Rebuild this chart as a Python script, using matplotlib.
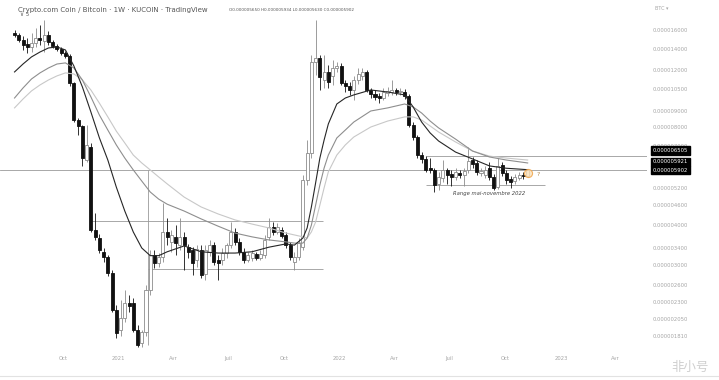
import numpy as np
import pandas as pd
import matplotlib
matplotlib.use("Agg")
import matplotlib.pyplot as plt
import matplotlib.dates as mdates
from matplotlib.lines import Line2D
from matplotlib.ticker import FixedLocator, NullLocator

plt.rcParams['font.family'] = ['DejaVu Sans', 'Noto Sans CJK SC']

# weekly CRO/BTC candles, prices in units of 1e-6 BTC
start_week = "2020-07-13"
opens = [15.66, 15.44, 14.90, 14.48, 14.18, 14.59, 15.11, 14.80, 15.44, 14.69,
         14.28, 13.98, 13.58, 13.30, 10.98, 8.43, 8.08, 6.34, 6.96, 3.85,
         3.64, 3.29, 3.18, 2.84, 2.18, 1.89, 2.06, 2.29, 2.29, 1.89,
         1.72, 1.86, 2.51, 3.23, 3.04, 3.18, 3.80, 3.54, 3.67, 3.46,
         3.67, 3.41, 3.34, 3.11, 3.34, 2.82, 3.29, 3.46, 3.11, 3.11,
         3.27, 3.46, 3.80, 3.54, 3.29, 3.11, 3.16, 3.25, 3.16, 3.23,
         3.67, 3.93, 3.80, 3.85, 3.72, 3.46, 3.07, 3.18, 3.41, 5.50,
         6.66, 12.75, 13.11, 11.21, 11.87, 11.54, 12.21, 12.38, 10.98, 10.74,
         10.44, 11.21, 11.54, 11.87, 10.44, 10.15, 10.00, 9.86, 10.22, 10.29,
         10.44, 10.29, 10.29, 10.00, 8.14, 7.47, 6.57, 6.39, 6.00, 5.91,
         5.35, 5.58, 5.91, 5.74, 5.62, 5.79, 5.70, 5.91, 6.34, 6.21,
         5.79, 5.70, 6.00, 5.62, 5.24, 6.12, 5.79, 5.54, 5.46, 5.58,
         5.70, 5.650]
highs = [16.00, 15.66, 15.33, 15.11, 15.66, 16.23, 16.58, 17.18, 15.89, 14.90,
         14.48, 14.18, 13.78, 13.49, 11.06, 8.55, 8.14, 8.14, 7.16, 4.35,
         3.75, 3.39, 3.23, 2.90, 2.26, 2.34, 2.51, 2.43, 2.37, 1.96,
         1.89, 2.61, 3.34, 3.34, 3.27, 4.67, 4.20, 3.85, 3.99, 4.20,
         3.80, 3.49, 3.41, 3.46, 3.46, 3.46, 3.59, 3.54, 3.23, 3.39,
         3.51, 4.08, 3.91, 3.64, 3.39, 3.29, 3.34, 3.29, 3.34, 3.72,
         4.20, 4.08, 4.05, 3.93, 3.80, 3.54, 3.29, 3.64, 5.70, 7.31,
         13.39, 17.18, 13.39, 13.39, 12.47, 12.93, 12.75, 12.66, 11.21, 11.05,
         11.54, 12.21, 12.21, 12.04, 10.59, 10.44, 10.22, 10.59, 10.67, 11.21,
         10.59, 10.59, 10.52, 10.15, 8.31, 7.58, 6.71, 6.52, 6.43, 6.00,
         5.83, 6.34, 6.00, 5.91, 6.00, 5.91, 6.00, 6.96, 6.48, 6.34,
         6.00, 6.08, 6.25, 5.74, 6.43, 6.25, 5.91, 5.66, 5.74, 5.83,
         5.83, 5.934]
lows = [15.22, 14.69, 13.88, 13.58, 13.68, 14.18, 14.38, 13.68, 14.38, 14.08,
        13.78, 13.39, 13.11, 10.74, 8.31, 7.58, 6.08, 6.25, 3.80, 3.59,
        3.27, 3.07, 2.78, 2.15, 1.79, 1.81, 2.00, 2.15, 1.86, 1.67,
        1.68, 1.81, 2.43, 2.94, 2.96, 3.07, 3.46, 3.29, 3.23, 3.34,
        2.90, 3.16, 2.80, 2.96, 2.74, 2.70, 3.21, 3.00, 2.70, 3.00,
        3.16, 3.39, 3.46, 3.23, 3.04, 3.07, 3.09, 3.11, 3.11, 3.16,
        3.59, 3.72, 3.75, 3.64, 3.39, 3.11, 2.90, 3.11, 3.34, 5.31,
        6.43, 11.62, 10.44, 10.59, 10.59, 10.82, 11.87, 10.82, 10.29, 10.08,
        9.72, 10.90, 11.21, 10.29, 9.86, 9.72, 9.51, 9.72, 10.00, 10.08,
        10.08, 10.08, 9.79, 8.03, 7.31, 6.43, 6.21, 5.83, 5.79, 5.05,
        5.12, 5.43, 5.35, 5.27, 5.50, 5.58, 5.27, 5.79, 6.00, 5.70,
        5.66, 5.58, 5.50, 5.12, 5.16, 5.66, 5.35, 5.20, 5.35, 5.50,
        5.54, 5.630]
closes = [15.44, 14.90, 14.38, 14.18, 14.59, 15.11, 14.90, 15.44, 14.69, 14.28,
          13.98, 13.58, 13.30, 10.98, 8.43, 8.08, 6.43, 7.06, 3.85, 3.67,
          3.34, 3.18, 2.84, 2.18, 1.85, 2.06, 2.29, 2.24, 1.89, 1.70,
          1.86, 2.51, 3.23, 3.04, 3.18, 3.80, 3.67, 3.72, 3.51, 3.67,
          3.46, 3.29, 3.04, 3.36, 2.80, 3.34, 3.46, 3.07, 3.04, 3.27,
          3.46, 3.80, 3.54, 3.29, 3.11, 3.23, 3.27, 3.16, 3.25, 3.59,
          3.93, 3.80, 3.93, 3.69, 3.46, 3.18, 3.18, 3.51, 5.50, 6.66,
          12.75, 13.11, 11.46, 11.87, 11.05, 12.21, 12.38, 10.98, 10.74, 10.44,
          11.21, 11.70, 11.87, 10.44, 10.15, 9.93, 9.86, 10.29, 10.37, 10.44,
          10.29, 10.37, 10.00, 8.14, 7.47, 6.57, 6.39, 5.91, 5.91, 5.31,
          5.62, 5.91, 5.70, 5.62, 5.83, 5.70, 5.87, 6.30, 6.16, 5.83,
          5.87, 5.91, 5.62, 5.20, 6.08, 5.79, 5.50, 5.43, 5.62, 5.70,
          5.66, 5.902]

# moving averages (week index -> value)
ma_weeks = [0, 2, 4, 6, 8, 10, 12, 14, 16, 18, 20, 22, 24, 26, 28, 30, 32, 34, 36,
            40, 44, 48, 52, 56, 60, 64, 66, 68, 69, 70, 71, 72, 73, 74, 76, 78, 80,
            84, 88, 92, 94, 96, 98, 100, 104, 108, 112, 116, 121]
ma_fast = [11.87, 12.56, 13.21, 13.68, 14.08, 14.18, 13.88, 12.38, 10.67, 8.93,
           7.43, 6.34, 5.23, 4.41, 3.80, 3.39, 3.21, 3.21, 3.30, 3.44, 3.30, 3.27,
           3.27, 3.30, 3.41, 3.49, 3.46, 3.64, 3.91, 4.54, 5.39, 6.43, 7.31, 8.20,
           9.45, 9.86, 10.08, 10.44, 10.29, 10.08, 9.25, 8.31, 7.69, 7.26, 6.71,
           6.39, 6.08, 5.98, 5.92]
ma_mid = [9.86, 10.59, 11.29, 11.79, 12.21, 12.56, 12.66, 12.21, 11.21, 9.94,
          8.74, 7.85, 7.06, 6.43, 5.91, 5.46, 5.05, 4.80, 4.63, 4.41, 4.17, 3.96,
          3.77, 3.67, 3.59, 3.54, 3.51, 3.51, 3.64, 3.99, 4.60, 5.31, 5.99, 6.57,
          7.42, 7.85, 8.31, 8.99, 9.19, 9.45, 9.25, 8.86, 8.37, 7.97, 7.36, 6.76,
          6.48, 6.34, 6.21]
ma_slow = [9.19, 9.79, 10.37, 10.82, 11.21, 11.54, 11.79, 11.70, 11.21, 10.44,
           9.51, 8.62, 7.79, 7.16, 6.57, 6.21, 5.91, 5.62, 5.35, 4.87, 4.54, 4.32,
           4.14, 4.02, 3.91, 3.77, 3.72, 3.67, 3.64, 3.80, 4.08, 4.60, 5.20, 5.83,
           6.57, 7.06, 7.47, 8.02, 8.37, 8.62, 8.62, 8.43, 8.08, 7.74, 7.21, 6.76,
           6.52, 6.43, 6.34]

# drawn levels: (price, from, to)
levels = [(4.11, "2020-11-16", "2021-12-04"),
          (2.92, "2021-02-18", "2021-12-04"),
          (6.505, "2022-05-23", "2023-06-30"),
          (5.30, "2022-05-23", "2022-12-05")]
vline_date, vline_lo, vline_hi = "2021-02-18", 1.70, 5.91
last_price = 5.902
price_tags = [("0.000006505", 6.505, 4.3), ("0.000005921", 5.902, 6.0), ("0.000005902", 5.902, 0.0)]

ytick_vals = [16.0, 14.0, 12.0, 10.5, 9.0, 8.0, 7.0, 5.2, 4.6, 4.0, 3.4, 3.0, 2.6, 2.3, 2.05, 1.81]
xtick_dates = ["2020-10-01", "2021-01-01", "2021-04-01", "2021-07-01", "2021-10-01", "2022-01-01",
               "2022-04-01", "2022-07-01", "2022-10-01", "2023-01-01", "2023-04-01"]
xtick_labels = ["Oct", "2021", "Avr", "Juil", "Oct", "2022", "Avr", "Juil", "Oct", "2023", "Avr"]

u = 1e-6
o, h, l, c = (np.array(a) * u for a in (opens, highs, lows, closes))
dates = pd.date_range(start_week, periods=len(closes), freq="7D")
x = mdates.date2num(dates)
up = c >= o
ma_x = mdates.date2num(pd.Timestamp(start_week) + pd.to_timedelta(np.array(ma_weeks) * 7, unit="D"))

fig = plt.figure(figsize=(7.19, 3.80), dpi=100)
ax = fig.add_axes([0, 30 / 380, 647 / 719, 350 / 380])
ax.set_yscale('log')

wick_col = np.where(up, '#8c8c8c', '#111111')
ax.vlines(x, l, h, colors=wick_col, lw=0.6, zorder=2)
ax.bar(x, np.abs(c - o), bottom=np.minimum(o, c), width=5,
       color=np.where(up, 'white', '#111111'), edgecolor=np.where(up, '#8c8c8c', '#111111'),
       linewidth=0.6, zorder=3)

ax.plot(ma_x, np.array(ma_slow) * u, color='#c8c8c8', lw=0.8, zorder=4)
ax.plot(ma_x, np.array(ma_mid) * u, color='#8e8e8e', lw=0.8, zorder=4)
ax.plot(ma_x, np.array(ma_fast) * u, color='#262626', lw=0.8, zorder=4)

ax.axhline(last_price * u, color='#9a9a9a', lw=0.6, zorder=1)
for val, d0, d1 in levels:
    ax.hlines(val * u, mdates.datestr2num(d0), mdates.datestr2num(d1), color='#9a9a9a', lw=0.6, zorder=1)
ax.vlines(mdates.datestr2num(vline_date), vline_lo * u, vline_hi * u, color='#9a9a9a', lw=0.6, zorder=1)

ax.text(mdates.datestr2num("2022-09-04"), 4.98 * u, "Range mai-novembre 2022", fontsize=3.8,
        style='italic', color='#444444', ha='center', va='center')
ax.scatter([x[-1]], [5.80 * u], s=34, facecolor='#fbe0b8', edgecolor='#f0a040', lw=0.8, alpha=0.8, zorder=5)
ax.text(mdates.datestr2num("2022-11-24"), 5.72 * u, "?", fontsize=4.5, color='#b08850', ha='center', va='center')

ax.set_xlim(mdates.datestr2num("2020-06-19"), mdates.datestr2num("2023-05-23"))
ax.set_ylim(1.64 * u, 19.81 * u)

ax.yaxis.tick_right()
ax.yaxis.set_major_locator(FixedLocator([v * u for v in ytick_vals]))
ax.yaxis.set_minor_locator(NullLocator())
ax.set_yticklabels([f"{v * u:.9f}" for v in ytick_vals])
ax.set_xticks([mdates.datestr2num(d) for d in xtick_dates])
ax.set_xticklabels(xtick_labels)
ax.tick_params(axis='y', length=0, pad=4, labelsize=3.8, labelcolor='#a6a6a6')
ax.tick_params(axis='x', length=0, pad=4, labelsize=3.8, labelcolor='#a6a6a6')
for s in ax.spines.values():
    s.set_visible(False)

for txt, val, dy in price_tags:
    ax.annotate(txt, xy=(1, val * u), xycoords=('axes fraction', 'data'), xytext=(4, dy),
                textcoords='offset points', ha='left', va='center', fontsize=3.8, color='white',
                bbox=dict(boxstyle='square,pad=0.3', fc='black', ec='black'), annotation_clip=False, zorder=6)

fig.text(18 / 719, 1 - 10 / 380, "Crypto.com Coin / Bitcoin · 1W · KUCOIN · TradingView",
         fontsize=5, color='#555555', va='center')
fig.text(229 / 719, 1 - 10 / 380, "O0.000005650 H0.000005934 L0.000005630 C0.000005902",
         fontsize=3.0, color='#555555', va='center')
fig.text(20 / 719, 1 - 14 / 380, "∨ 5", fontsize=4, color='#555555', va='center')
fig.text(655 / 719, 1 - 8 / 380, "BTC ▾", fontsize=3.5, color='#a6a6a6', va='center')
fig.text(690 / 719, 1 - 367 / 380, "非小号", fontsize=9, color='#cfcfcf', ha='center', va='center',
         family=['Noto Sans CJK SC', 'DejaVu Sans'])
fig.add_artist(Line2D([0, 1], [4 / 380, 4 / 380], color='#e2e2e2', lw=0.8))

fig.savefig("out.png", dpi=100)
